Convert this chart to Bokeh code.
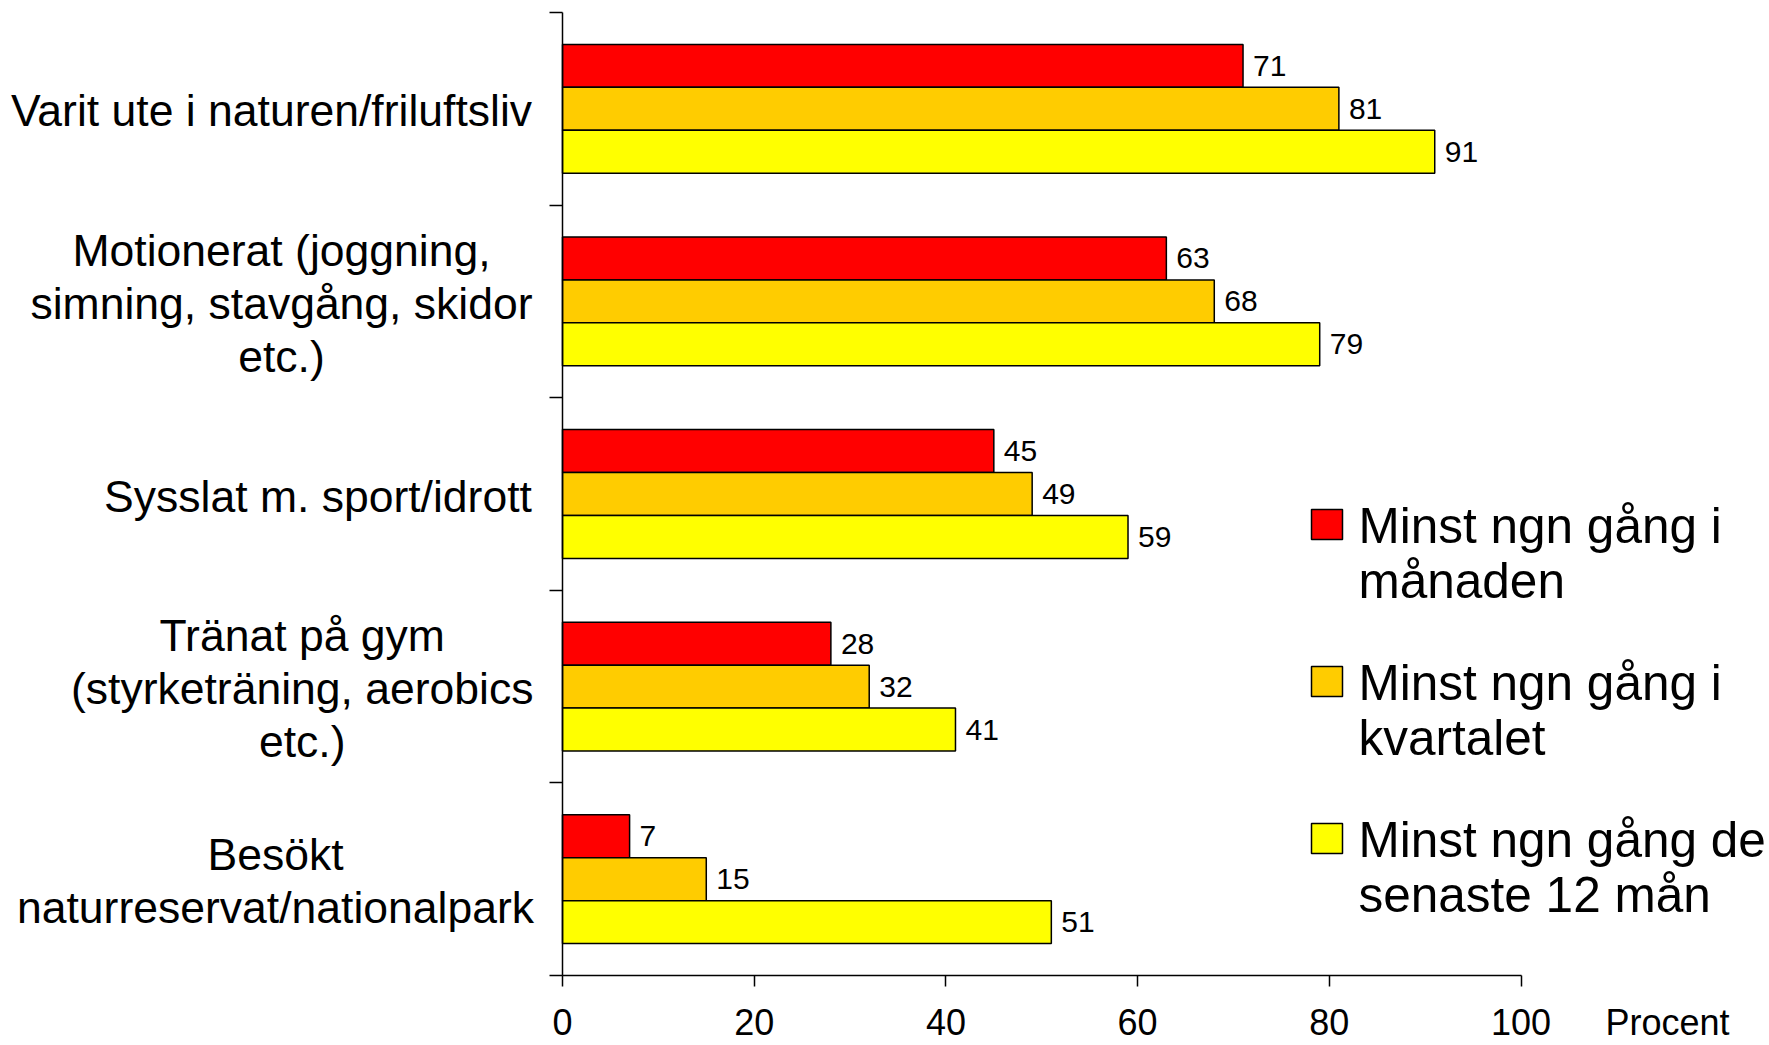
import numpy as np
from bokeh.plotting import figure
from bokeh.models import ColumnDataSource, Range1d, FixedTicker, LinearAxis
from bokeh.core.properties import value
from bokeh.embed import file_html
from bokeh.resources import INLINE

# ---------------- data ----------------
categories = [
    "Varit ute i naturen/friluftsliv",
    "Motionerat (joggning,\nsimning, stavgång, skidor\netc.)",
    "Sysslat m. sport/idrott",
    "Tränat på gym\n(styrketräning, aerobics\netc.)",
    "Besökt\nnaturreservat/nationalpark",
]
series_names = [
    "Minst ngn gång i\nmånaden",
    "Minst ngn gång i\nkvartalet",
    "Minst ngn gång de\nsenaste 12 mån",
]
monthly = [71, 63, 45, 28, 7]
quarterly = [81, 68, 49, 32, 15]
yearly = [91, 79, 59, 41, 51]
x_ticks = [0, 20, 40, 60, 80, 100]
x_axis_title = "Procent"

# ---------------- style / layout (screen pixels) ----------------
colors = ["#FF0000", "#FFCC00", "#FFFF00"]
FONT = "Liberation Sans"
W, H = 1769, 1045
X0_PX, X100_PX = 562, 1520.5          # screen x of 0 and 100 %
Y_TOP_PX, Y_AXIS_PX = 12, 975         # screen y of top and bottom of the category bands
n = len(categories)
px_x = (X100_PX - X0_PX) / 100.0
px_y = (Y_AXIS_PX - Y_TOP_PX) / n

def dx(px):   # screen x -> data x
    return (px - X0_PX) / px_x

def dy(py):   # screen y -> data y
    return (Y_AXIS_PX - py) / px_y

bar_h = 0.223
offsets = [bar_h, 0.0, -bar_h]
label_cx_px = [271, 281, 317.5, 301.7, 275]   # centres of the category label blocks
legend_sw_x_px = 1326.5
legend_txt_x_px = 1358
legend_y0_px, legend_pitch_px = 524, 157
TICK_OUT_X, STANDOFF_X = 11, 22

p = figure(width=W, height=H, output_backend="svg", toolbar_location=None,
           x_range=Range1d(dx(0), dx(W)), y_range=Range1d(dy(H), dy(0)),
           min_border=0, x_axis_type=None, y_axis_type=None)
p.outline_line_color = None
p.grid.visible = False
p.background_fill_color = "white"
p.border_fill_color = "white"

centers = (n - 0.5) - np.arange(n)
for vals, off, col in zip([monthly, quarterly, yearly], offsets, colors):
    src = ColumnDataSource(dict(y=centers + off, v=vals, t=[str(v) for v in vals]))
    p.hbar(y="y", left=0, right="v", height=bar_h, source=src,
           fill_color=col, line_color="black", line_width=1.5)
    p.text(x="v", y="y", text="t", source=src, x_offset=10, text_baseline="middle",
           text_align="left", text_font=value(FONT), text_font_size="30px",
           text_color="black")

# x axis (drawn at y = 0)
xa = LinearAxis(ticker=FixedTicker(ticks=x_ticks), bounds=(0, 100), fixed_location=0)
xa.axis_line_color = "black"
xa.axis_line_width = 1.5
xa.major_tick_line_color = "black"
xa.major_tick_line_width = 1.5
xa.major_tick_out = TICK_OUT_X
xa.major_tick_in = 0
xa.minor_tick_line_color = None
xa.major_label_standoff = STANDOFF_X
xa.major_label_text_font = FONT
xa.major_label_text_font_size = "36px"
xa.major_label_text_color = "black"
p.add_layout(xa, "below")

# y axis (drawn at x = 0), ticks at category boundaries
ya = LinearAxis(ticker=FixedTicker(ticks=list(range(n + 1))), bounds=(0, n), fixed_location=0)
ya.axis_line_color = "black"
ya.axis_line_width = 1.5
ya.major_tick_line_color = "black"
ya.major_tick_line_width = 1.5
ya.major_tick_out = 13
ya.major_tick_in = 0
ya.minor_tick_line_color = None
ya.major_label_overrides = {i: "" for i in range(n + 1)}
p.add_layout(ya, "left")

# category labels
cat_src = ColumnDataSource(dict(x=[dx(c) for c in label_cx_px], y=centers, t=categories))
p.text(x="x", y="y", text="t", source=cat_src, text_align="center", text_baseline="middle",
       y_offset=2, text_font=value(FONT), text_font_size="44.5px", text_color="black",
       text_line_height=1.08)

# axis title next to the tick labels
p.text(x=[dx(1605)], y=[0], text=[x_axis_title], y_offset=TICK_OUT_X + STANDOFF_X - 7,
       text_align="left", text_baseline="top", text_font=value(FONT),
       text_font_size="36px", text_color="black")

# legend
ly = [dy(legend_y0_px + i * legend_pitch_px) for i in range(len(series_names))]
leg_src = ColumnDataSource(dict(xs=[dx(legend_sw_x_px)] * 3, xt=[dx(legend_txt_x_px)] * 3,
                                y=ly, c=colors, t=series_names))
p.rect(x="xs", y="y", width=31, height=30, width_units="screen", height_units="screen",
       fill_color="c", line_color="black", line_width=1.5, source=leg_src)
p.text(x="xt", y="y", text="t", source=leg_src, text_align="left", text_baseline="middle",
       y_offset=28, text_font=value(FONT), text_font_size="49.5px", text_color="black",
       text_line_height=1.0)

open("out.html", "w").write(file_html(p, INLINE))
